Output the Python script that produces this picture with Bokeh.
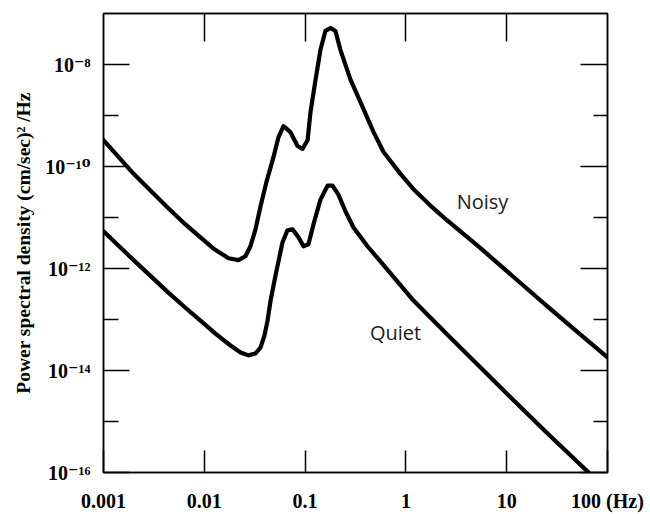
from bokeh.plotting import figure
from bokeh.models import FixedTicker, LogAxis, ColumnDataSource, CustomJSTickFormatter
from bokeh.core.properties import value
from bokeh.embed import file_html
from bokeh.resources import INLINE

# Seismic noise spectra: frequency (Hz) and power spectral density ((cm/sec)^2/Hz)
freq_noisy = [0.001, 0.00199, 0.00432, 0.0065, 0.00916, 0.0126, 0.0174, 0.0218, 0.0256,
              0.0287, 0.0322, 0.0361, 0.0414, 0.0486, 0.0545, 0.0611, 0.0716, 0.0841,
              0.0942, 0.106, 0.113, 0.127, 0.142, 0.159, 0.179, 0.200, 0.224, 0.282,
              0.355, 0.478, 0.600, 0.883, 1.19, 1.75, 2.57, 5.5, 11.7, 25.0, 54.0, 100.0]
psd_noisy = [3.30e-10, 7.18e-11, 1.57e-11, 7.31e-12, 4.08e-12, 2.38e-12, 1.59e-12, 1.46e-12,
             1.74e-12, 2.73e-12, 5.85e-12, 1.64e-11, 5.01e-11, 1.54e-10, 3.77e-10, 6.17e-10,
             4.71e-10, 2.52e-10, 2.20e-10, 3.30e-10, 1.15e-9, 5.06e-9, 1.94e-8, 4.55e-8,
             5.20e-8, 4.55e-8, 1.94e-8, 5.06e-9, 1.81e-9, 4.71e-10, 1.92e-10, 7.18e-11,
             3.6e-11, 1.71e-11, 8.75e-12, 2.5e-12, 6.81e-13, 1.85e-13, 5.06e-14, 1.81e-14]

freq_quiet = [0.001, 0.00199, 0.00432, 0.0065, 0.00916, 0.0129, 0.0182, 0.0229, 0.0274,
              0.0322, 0.0361, 0.0395, 0.0424, 0.0454, 0.0496, 0.0532, 0.0597, 0.0668,
              0.0750, 0.0861, 0.0964, 0.108, 0.121, 0.142, 0.167, 0.187, 0.214, 0.252,
              0.302, 0.416, 0.535, 1.19, 2.57, 5.5, 11.7, 25.0, 65.0]
psd_quiet = [5.35e-12, 1.46e-12, 3.48e-13, 1.70e-13, 9.48e-14, 5.30e-14, 3.09e-14, 2.26e-14,
             1.98e-14, 2.16e-14, 2.82e-14, 4.84e-14, 9.48e-14, 2.32e-13, 5.69e-13, 1.11e-12,
             3.27e-12, 5.58e-12, 5.85e-12, 4.08e-12, 2.73e-12, 2.99e-12, 7.31e-12, 2.24e-11,
             4.20e-11, 4.20e-11, 2.80e-11, 1.31e-11, 6.38e-12, 2.73e-12, 1.52e-12, 2.35e-13,
             5.06e-14, 1.15e-14, 2.6e-15, 6.0e-16, 1.0e-16]

x_ticks = [0.001, 0.01, 0.1, 1, 10, 100]
x_tick_labels = ["0.001", "0.01", "0.1", "1", "10", "100 (Hz)"]
y_ticks = [1e-16, 1e-14, 1e-12, 1e-10, 1e-8]
y_minor_ticks = [1e-15, 1e-13, 1e-11, 1e-9]
y_tick_labels = ["10\u207b\u00b9\u2076", "10\u207b\u00b9\u2074", "10\u207b\u00b9\u00b2",
                 "10\u207b\u00b9\u2070", "10\u207b\u2078"]

curve_labels = ["Noisy", "Quiet"]
curve_label_x = [5.75, 0.79]
curve_label_y = [2.1e-11, 5.5e-14]

SERIF = "Liberation Serif"
SERIF_SUP = "'Liberation Serif', 'DejaVu Serif'"

LOOKUP = """
for (let i = 0; i < tick_values.length; i++) {
    if (Math.abs(Math.log10(tick) - Math.log10(tick_values[i])) < 1e-6) return tick_texts[i];
}
return "";
"""

p = figure(width=650, height=514, x_axis_type="log", y_axis_type="log",
           x_range=(0.001, 100), y_range=(1e-16, 1e-7),
           output_backend="svg", toolbar_location=None,
           min_border_left=103, min_border_right=43,
           min_border_top=13, min_border_bottom=41)
p.xgrid.visible = False
p.ygrid.visible = False
p.outline_line_color = "black"
p.outline_line_width = 1.5
p.background_fill_color = "white"
p.border_fill_color = "white"

p.line(freq_noisy, psd_noisy, line_color="black", line_width=4.2,
       line_join="round", line_cap="round")
p.line(freq_quiet, psd_quiet, line_color="black", line_width=4.2,
       line_join="round", line_cap="round")

src = ColumnDataSource(dict(x=curve_label_x, y=curve_label_y, t=curve_labels))
p.text(x="x", y="y", text="t", source=src, text_font=value("Open Sans"),
       text_font_size="20px", text_color="#1a1a1a",
       text_align="center", text_baseline="middle")

# bottom axis
xa = p.xaxis[0]
xa.ticker = FixedTicker(ticks=x_ticks, minor_ticks=[])
xa.formatter = CustomJSTickFormatter(args=dict(tick_values=x_ticks, tick_texts=x_tick_labels),
                                     code=LOOKUP)
xa.major_tick_in = 22
xa.major_tick_out = 0
xa.major_tick_line_width = 1.5
xa.minor_tick_line_color = None
xa.axis_line_width = 1.5
xa.major_label_standoff = 17
xa.major_label_text_font = SERIF
xa.major_label_text_font_style = "bold"
xa.major_label_text_font_size = "20px"
xa.major_label_text_color = "black"

# left axis
ya = p.yaxis[0]
ya.ticker = FixedTicker(ticks=y_ticks, minor_ticks=y_minor_ticks)
ya.formatter = CustomJSTickFormatter(args=dict(tick_values=y_ticks, tick_texts=y_tick_labels),
                                     code=LOOKUP)
ya.major_tick_in = 26
ya.major_tick_out = 0
ya.minor_tick_in = 15
ya.minor_tick_out = 0
ya.major_tick_line_width = 1.5
ya.minor_tick_line_width = 1.5
ya.axis_line_width = 1.5
ya.major_label_standoff = 13
ya.major_label_text_font = SERIF_SUP
ya.major_label_text_font_style = "bold"
ya.major_label_text_font_size = "20px"
ya.major_label_text_color = "black"
ya.axis_label = "Power spectral density (cm/sec)\u00b2 /Hz"
ya.axis_label_text_font = SERIF
ya.axis_label_text_font_style = "bold"
ya.axis_label_text_font_size = "19.5px"
ya.axis_label_text_color = "black"
ya.axis_label_standoff = 8

# top and right frame ticks, no labels
top = LogAxis(ticker=FixedTicker(ticks=[0.01, 0.1, 1, 10], minor_ticks=[]),
              formatter=CustomJSTickFormatter(code="return '';"),
              major_label_standoff=0, major_label_text_font_size="1px",
              major_tick_in=28, major_tick_out=0, major_tick_line_width=1.5,
              minor_tick_line_color=None, axis_line_width=1.5)
right = LogAxis(ticker=FixedTicker(ticks=y_ticks, minor_ticks=y_minor_ticks),
                formatter=CustomJSTickFormatter(code="return '';"),
                major_label_standoff=0, major_label_text_font_size="1px",
                major_tick_in=27, major_tick_out=0, minor_tick_in=14, minor_tick_out=0,
                major_tick_line_width=1.5, minor_tick_line_width=1.5, axis_line_width=1.5)
p.add_layout(top, "above")
p.add_layout(right, "right")

open("out.html", "w").write(file_html(p, INLINE))
